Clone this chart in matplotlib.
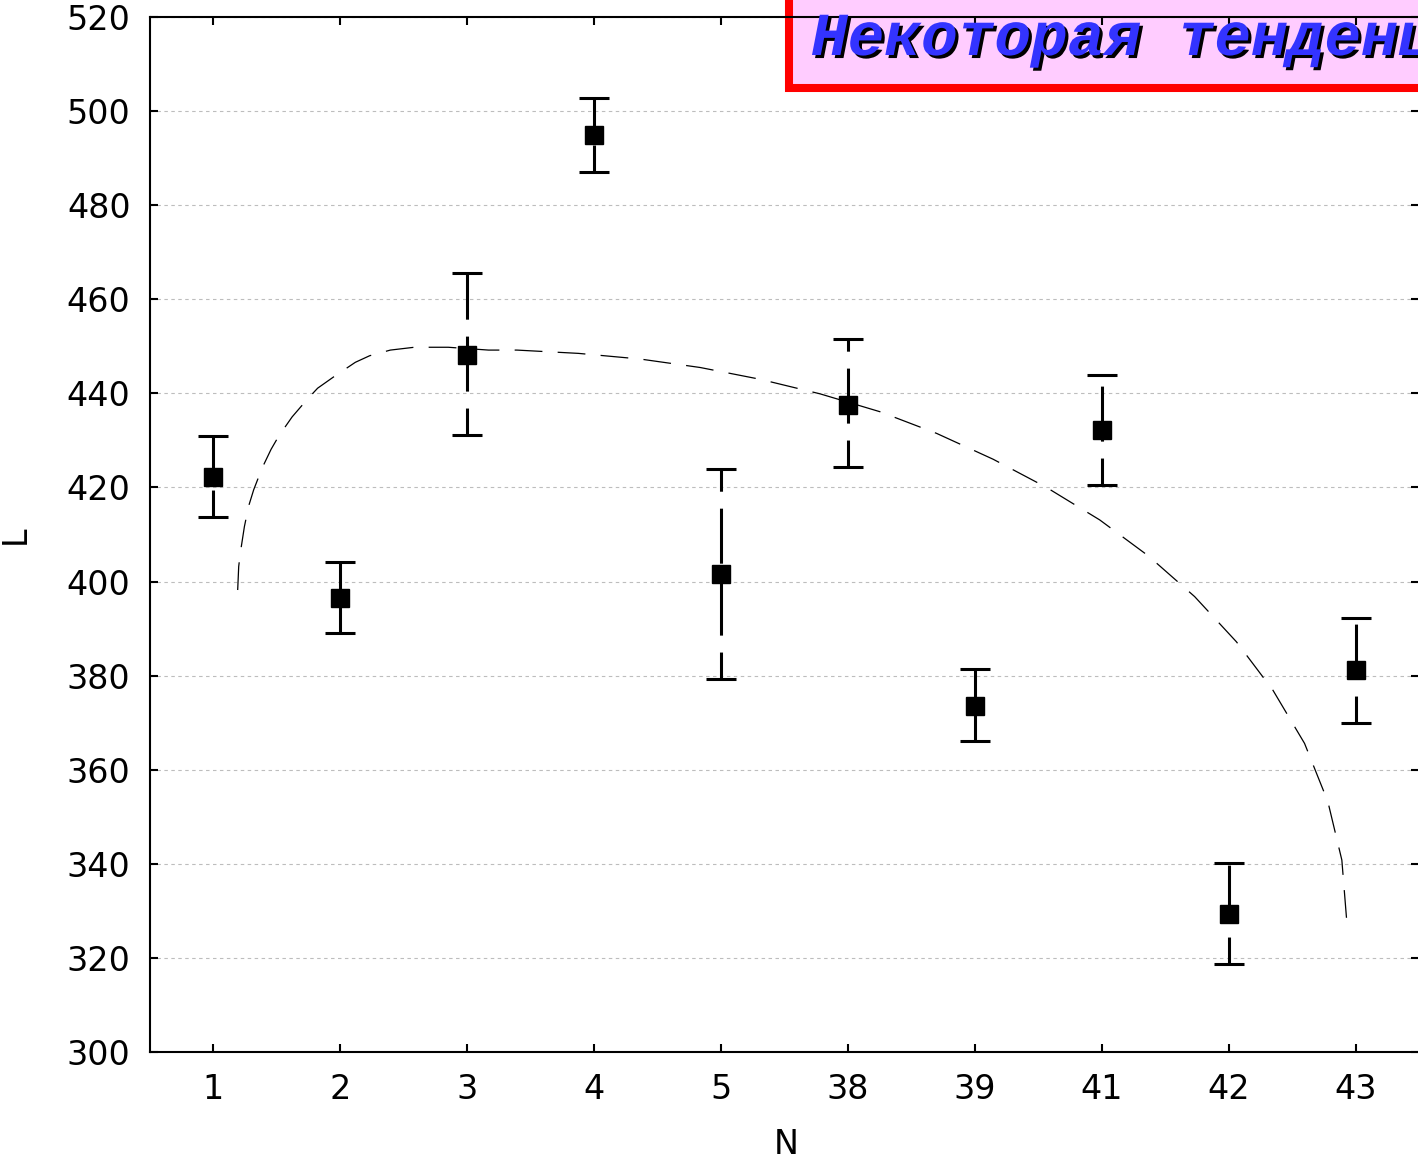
import numpy as np
import matplotlib.pyplot as plt
import matplotlib.patheffects as pe
from matplotlib.patches import Rectangle

# group labels on the N axis
groups = ['1', '2', '3', '4', '5', '38', '39', '41', '42', '43']
# mean L per group and the ends of its interval
means = [422.2, 396.5, 448.2, 494.9, 401.6, 437.5, 373.6, 432.2, 329.4, 381.2]
upper = [431.0, 404.2, 465.6, 502.8, 423.9, 451.6, 381.4, 443.9, 340.2, 392.3]
lower = [413.7, 389.1, 431.2, 487.1, 379.3, 424.4, 366.1, 420.5, 318.7, 369.9]

# trend curve, x in group-position units
trend_x = [0.191, 0.199, 0.213, 0.244, 0.278, 0.317, 0.383, 0.454, 0.514, 0.620,
           0.738, 0.821, 0.947, 1.118, 1.231, 1.394, 1.583, 1.850, 2.168, 2.391,
           2.876, 3.362, 3.835, 4.307, 4.780, 5.252, 5.698, 6.144, 6.565, 6.984,
           7.365, 7.732, 8.061, 8.349, 8.598, 8.782, 8.892, 8.931]
trend_y = [398.2, 403.2, 406.3, 411.7, 416.1, 419.5, 424.1, 428.1, 430.9, 435.0,
           438.7, 441.1, 443.5, 446.6, 448.0, 449.2, 449.8, 449.8, 449.2, 449.2,
           448.5, 447.3, 445.5, 443.0, 439.9, 436.1, 431.5, 426.0, 420.0, 413.1,
           405.5, 396.8, 387.2, 376.9, 365.6, 353.2, 340.8, 327.7]

title = 'Некоторая тенденция'

plt.rcParams['lines.scale_dashes'] = False

fig = plt.figure(figsize=(14.18, 11.58), dpi=100)
ax = fig.add_axes([150 / 1418, 106 / 1158, 1269 / 1418, 1035 / 1158])
ax.set_facecolor('none')

x = np.arange(len(groups))

# interval bars: one dashed line per group, dash phase counted from the lower end
ax.vlines(x, lower, upper, colors='black', linewidth=2.2,
          linestyles=[(20.2, (39.6, 12.2))], zorder=3)
ax.plot(x, upper, ls='none', marker='_', ms=21, mew=2.2, color='black', zorder=3)
ax.plot(x, lower, ls='none', marker='_', ms=21, mew=2.2, color='black', zorder=3)
ax.plot(x, means, ls='none', marker='s', ms=13.5, color='black', zorder=4)

ax.plot(trend_x, trend_y, color='black', lw=0.9, dashes=(20, 11), zorder=5)

ax.set_xlim(-0.5, len(groups) - 0.5)
ax.set_ylim(300, 520)
ax.set_xticks(x)
ax.set_xticklabels(groups)
ax.set_yticks(np.arange(300, 521, 20))
ax.yaxis.grid(True, color='#bdbdbd', linestyle=(0, (2.5, 2.5)), linewidth=0.8)
ax.set_axisbelow(True)

for s in ax.spines.values():
    s.set_linewidth(1.5)
ax.tick_params(direction='in', length=5.5, width=1.5, labelsize=24,
               top=True, right=True)
ax.tick_params(axis='x', pad=15)
ax.tick_params(axis='y', pad=14)

ax.set_xlabel('N', fontsize=24)
ax.set_ylabel('L', fontsize=24)
ax.xaxis.set_label_coords(0.501, -0.073)
ax.yaxis.set_label_coords(-0.093, 0.5)

# banner in the upper right corner
box = Rectangle((789 / 1418, 1070 / 1158), 0.6, 0.2, transform=fig.transFigure,
                facecolor='#ffccff', edgecolor='#ff0000', linewidth=5.8, zorder=-1)
fig.patches.append(box)
fig.text(811 / 1418, (1158 - 55) / 1158, title, fontsize=44,
         family='Liberation Mono', weight='bold', style='italic',
         color='#3333ff', va='baseline', ha='left', zorder=10,
         path_effects=[pe.SimplePatchShadow(offset=(2.2, -2.2), shadow_rgbFace='black', alpha=1),
                       pe.Normal()])

fig.savefig('out.png', dpi=100)
